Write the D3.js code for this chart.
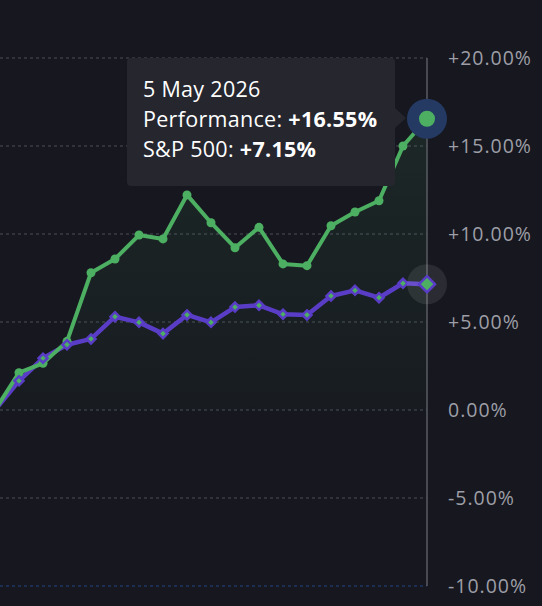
<!DOCTYPE html>
<html>
<head>
<meta charset="utf-8">
<script src="https://cdn.jsdelivr.net/npm/d3@7"></script>
<style>
  body { margin: 0; background: #16171f; }
  svg { display: block; }
</style>
</head>
<body>
<div class="chart"></div>
<script>
// performance vs S&P 500, weekly points, oldest first
var performance = [0, 2.12, 2.65, 3.9, 7.8, 8.58, 9.94, 9.72, 12.22, 10.64, 9.22, 10.38, 8.3, 8.2, 10.47, 11.25, 11.89, 15.0, 16.55];
var sp500 = [0, 1.66, 2.94, 3.71, 4.04, 5.3, 4.98, 4.34, 5.4, 4.98, 5.85, 5.95, 5.44, 5.4, 6.48, 6.8, 6.38, 7.2, 7.15];
var yTicks = [20, 15, 10, 5, 0, -5, -10];
var tooltipDate = "5 May 2026";

var svgWidth = 542;
var svgHeight = 606;
var plotRight = 427;
var font = "'Open Sans', sans-serif";

var svg = d3.select(".chart")
  .append("svg")
  .attr("width", svgWidth)
  .attr("height", svgHeight);

var x = d3.scaleLinear()
  .domain([0, performance.length - 1])
  .range([-5, plotRight]);

var y = d3.scaleLinear()
  .domain([-10, 20])
  .range([586, 58]);

// plain hyphen for negatives, like the original
var fmt = d => (d > 0 ? "+" : d < 0 ? "-" : "") + Math.abs(d).toFixed(2) + "%";

// gradient for the area under the performance line
var defs = svg.append("defs");
var grad = defs.append("linearGradient")
  .attr("id", "areaGrad")
  .attr("x1", 0).attr("y1", 0).attr("x2", 0).attr("y2", 1);
grad.append("stop").attr("offset", "0%").attr("stop-color", "#4caf62").attr("stop-opacity", 0.11);
grad.append("stop").attr("offset", "100%").attr("stop-color", "#4caf62").attr("stop-opacity", 0.03);

// gridlines
svg.append("g")
  .selectAll("line")
  .data(yTicks)
  .enter()
  .append("line")
  .attr("x1", 0)
  .attr("x2", plotRight)
  .attr("y1", d => y(d))
  .attr("y2", d => y(d))
  .attr("stroke", d => d == -10 ? "#1f3766" : "#3a3c47")
  .attr("stroke-width", 1.5)
  .attr("stroke-dasharray", "3,3");

// right axis labels
var rightAxis = d3.axisRight(y)
  .tickValues(yTicks)
  .tickFormat(fmt)
  .tickSize(0)
  .tickPadding(0);

var axisG = svg.append("g")
  .attr("transform", `translate(448, 0)`)
  .call(rightAxis);
axisG.select(".domain").remove();
axisG.selectAll("text")
  .attr("fill", "#9d9ea6")
  .attr("font-family", font)
  .attr("font-size", 19.5)
  .attr("letter-spacing", 1)
  .attr("dy", "0.35em");

// area under the performance line
var area = d3.area()
  .x((d, i) => x(i))
  .y0(y(0))
  .y1(d => y(d));

svg.append("path")
  .datum(performance)
  .attr("d", area)
  .attr("fill", "url(#areaGrad)");

// crosshair
svg.append("line")
  .attr("x1", plotRight).attr("x2", plotRight)
  .attr("y1", y(20)).attr("y2", y(-10))
  .attr("stroke", "#5a5c63")
  .attr("stroke-width", 1.5);

var line = d3.line()
  .x((d, i) => x(i))
  .y(d => y(d));

var last = performance.length - 1;

// S&P 500 line
svg.append("path")
  .datum(sp500)
  .attr("d", line)
  .attr("fill", "none")
  .attr("stroke", "#5a3dc6")
  .attr("stroke-width", 4.5)
  .attr("stroke-linejoin", "round");

// performance line
svg.append("path")
  .datum(performance)
  .attr("d", line)
  .attr("fill", "none")
  .attr("stroke", "#4caf62")
  .attr("stroke-width", 4)
  .attr("stroke-linejoin", "round");

// performance markers
svg.append("g")
  .selectAll("circle")
  .data(performance.slice(1, last))
  .enter()
  .append("circle")
  .attr("cx", (d, i) => x(i + 1))
  .attr("cy", d => y(d))
  .attr("r", 4.5)
  .attr("fill", "#4caf62");

// S&P markers (diamonds)
var diamond = s => `M0,${-s}L${s},0L0,${s}L${-s},0Z`;
svg.append("g")
  .selectAll("path")
  .data(sp500.slice(1, last))
  .enter()
  .append("path")
  .attr("transform", (d, i) => `translate(${x(i + 1)},${y(d)})`)
  .attr("d", diamond(4.5))
  .attr("fill", "#4caf62")
  .attr("stroke", "#5a3dc6")
  .attr("stroke-width", 2.5);

// highlighted last points
svg.append("circle")
  .attr("cx", x(last)).attr("cy", y(sp500[last]))
  .attr("r", 20)
  .attr("fill", "rgba(255,255,255,0.09)");
svg.append("path")
  .attr("transform", `translate(${x(last)},${y(sp500[last])})`)
  .attr("d", diamond(8))
  .attr("fill", "#4caf62")
  .attr("stroke", "#5a3dc6")
  .attr("stroke-width", 2.5);

svg.append("circle")
  .attr("cx", x(last)).attr("cy", y(performance[last]))
  .attr("r", 20)
  .attr("fill", "#253a62");
svg.append("circle")
  .attr("cx", x(last)).attr("cy", y(performance[last]))
  .attr("r", 8)
  .attr("fill", "#4caf62");

// tooltip
var tip = svg.append("g");
tip.append("rect")
  .attr("x", 127).attr("y", 58)
  .attr("width", 268).attr("height", 128)
  .attr("rx", 4)
  .attr("fill", "#25262e");
tip.append("path")
  .attr("d", "M395,108L406,118L395,128Z")
  .attr("fill", "#25262e");

var tipText = tip.append("text")
  .attr("font-family", font)
  .attr("font-size", 21.5)
  .attr("letter-spacing", 0.3)
  .attr("fill", "#ffffff");

tipText.append("tspan").attr("x", 143).attr("y", 97).text(tooltipDate);
var t2 = tipText.append("tspan").attr("x", 143).attr("y", 127);
t2.append("tspan").text("Performance: ");
t2.append("tspan").attr("font-weight", "bold").text(fmt(performance[last]));
var t3 = tipText.append("tspan").attr("x", 143).attr("y", 157);
t3.append("tspan").text("S&P 500: ");
t3.append("tspan").attr("font-weight", "bold").text(fmt(sp500[last]));
</script>
</body>
</html>
